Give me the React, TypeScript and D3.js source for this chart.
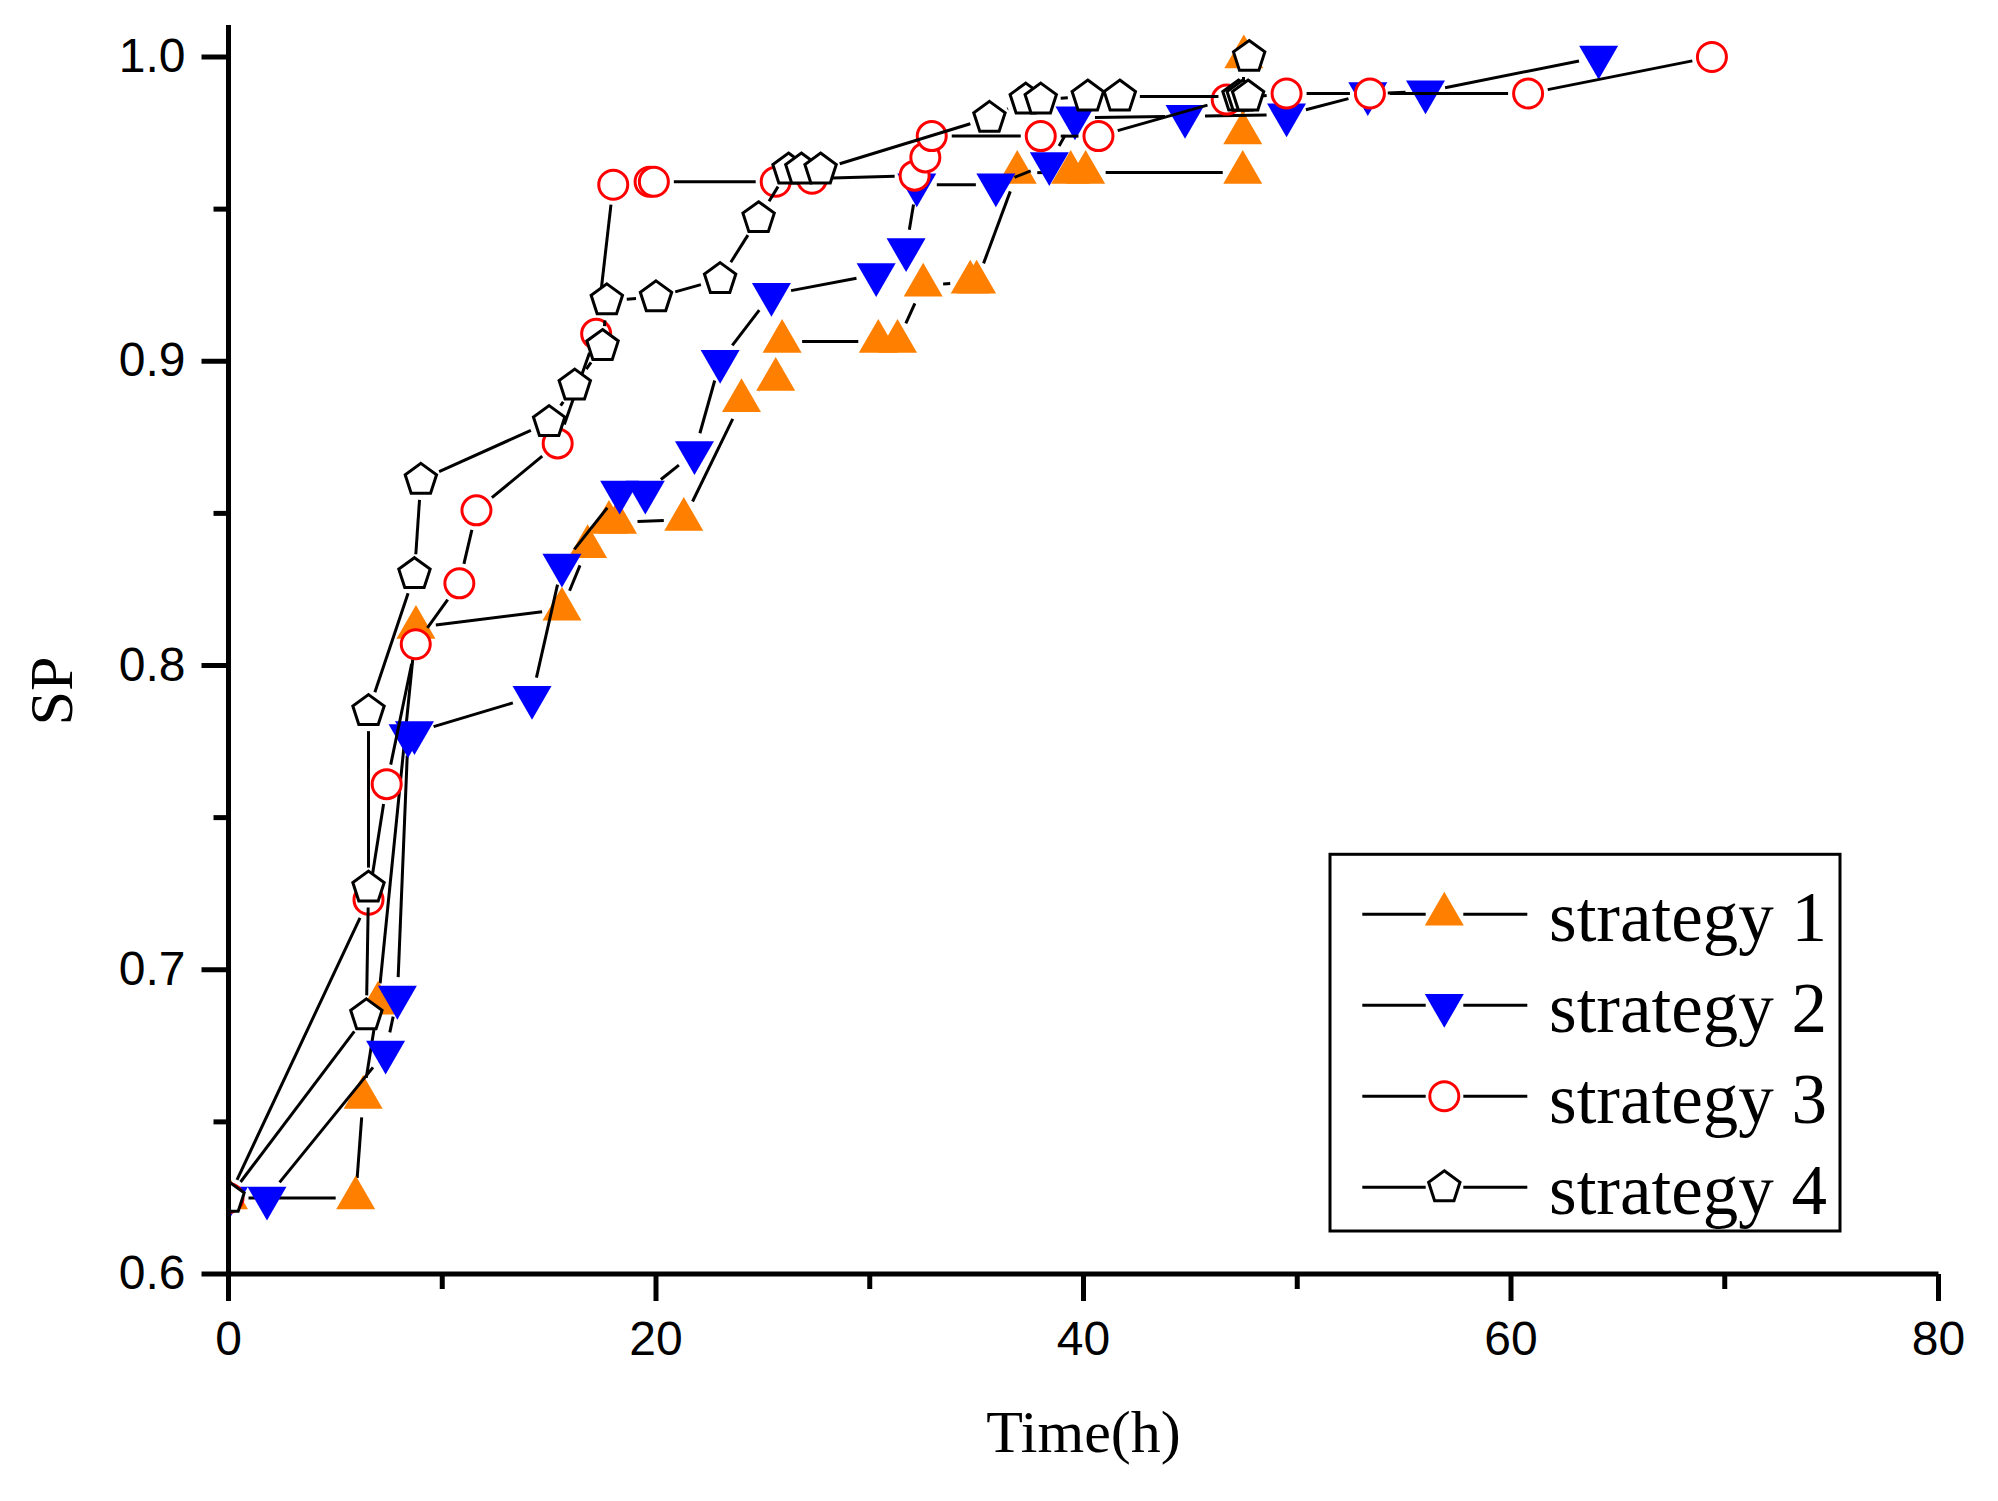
import React from 'react';
import * as d3 from 'd3';

const W = 1998;
const H = 1501;

// ---- data ----
const xTicks = [0, 20, 40, 60, 80];
const xMinorTicks = [10, 30, 50, 70];
const yTicks = [0.6, 0.7, 0.8, 0.9, 1.0];
const yMinorTicks = [0.65, 0.75, 0.85, 0.95];
const yTickLabels = ['0.6', '0.7', '0.8', '0.9', '1.0'];

const seriesNames = ['strategy 1', 'strategy 2', 'strategy 3', 'strategy 4'];
const seriesColors = ['#FF8000', '#0000FF', '#FF0000', '#000000'];
const seriesShapes = ['up', 'down', 'circle', 'pentagon'];

const s1Time = [0, 5.95, 6.3, 7.0, 8.77, 15.6, 16.8, 17.8, 18.2, 21.3, 24.0, 25.6, 25.9, 30.4, 31.3, 32.5, 34.7, 35.0, 36.9, 39.4, 40.1, 47.45, 47.45, 47.5];
const s1SP = [0.625, 0.625, 0.658, 0.689, 0.8125, 0.8185, 0.839, 0.847, 0.847, 0.848, 0.887, 0.894, 0.9065, 0.9065, 0.9065, 0.925, 0.926, 0.926, 0.962, 0.962, 0.962, 0.962, 0.975, 1.0];

const s2Time = [0, 1.8, 7.35, 7.9, 8.4, 8.7, 14.2, 15.6, 18.3, 19.5, 21.8, 23.0, 25.4, 30.3, 31.7, 32.2, 35.9, 38.4, 39.6, 44.75, 49.5, 53.3, 56.0, 64.1];
const s2SP = [0.625, 0.625, 0.673, 0.691, 0.777, 0.778, 0.7896, 0.833, 0.857, 0.857, 0.870, 0.900, 0.922, 0.9285, 0.9367, 0.958, 0.958, 0.965, 0.980, 0.9805, 0.981, 0.988, 0.9886, 1.0];

const s3Time = [0, 6.55, 7.4, 8.76, 10.8, 11.6, 15.4, 17.2, 18.0, 19.7, 19.9, 25.6, 27.3, 32.1, 32.6, 32.9, 38.0, 40.7, 46.7, 49.5, 53.4, 60.8, 69.4];
const s3SP = [0.625, 0.723, 0.761, 0.807, 0.827, 0.851, 0.873, 0.909, 0.958, 0.959, 0.959, 0.959, 0.960, 0.961, 0.967, 0.974, 0.974, 0.974, 0.986, 0.988, 0.988, 0.988, 1.0];

const s4Time = [0, 6.45, 6.55, 6.55, 8.7, 9.0, 15.0, 16.2, 17.5, 17.7, 20.0, 23.0, 24.8, 26.2, 26.8, 27.7, 35.6, 37.3, 38.0, 40.2, 41.7, 47.25, 47.45, 47.7, 47.75];
const s4SP = [0.625, 0.685, 0.727, 0.785, 0.830, 0.861, 0.880, 0.892, 0.905, 0.920, 0.921, 0.927, 0.947, 0.963, 0.963, 0.963, 0.980, 0.986, 0.986, 0.987, 0.987, 0.987, 0.987, 0.987, 1.0];

const seriesTime = [s1Time, s2Time, s3Time, s4Time];
const seriesSP = [s1SP, s2SP, s3SP, s4SP];

// ---- layout ----
const X0 = 228.5;
const X1 = 1938.5;
const Y0 = 1274;
const Y1 = 57;
const AXIS_TOP = 25;
const GAP = 20;

const xScale = d3.scaleLinear().domain([0, 80]).range([X0, X1]);
const yScale = d3.scaleLinear().domain([0.6, 1.0]).range([Y0, Y1]);

const SANS = '"Liberation Sans", Arial, sans-serif';
const SERIF = '"Liberation Serif", "Times New Roman", serif';

function Marker({ shape, color, cx, cy }: { shape: string; color: string; cx: number; cy: number }) {
  if (shape === 'up' || shape === 'down') {
    const s = 39;
    const h = (s * Math.sqrt(3)) / 2;
    const sign = shape === 'up' ? 1 : -1;
    const pts = [
      [cx, cy - (sign * 2 * h) / 3],
      [cx - s / 2, cy + (sign * h) / 3],
      [cx + s / 2, cy + (sign * h) / 3],
    ];
    return <polygon points={pts.map((p) => p.join(',')).join(' ')} fill={color} stroke="none" />;
  }
  if (shape === 'circle') {
    return <circle cx={cx} cy={cy} r={14.5} fill="#fff" stroke={color} strokeWidth={3} />;
  }
  const R = 16.5;
  const pts = d3.range(5).map((i) => {
    const a = -Math.PI / 2 + (i * 2 * Math.PI) / 5;
    return [cx + R * Math.cos(a), cy + R * Math.sin(a)];
  });
  return (
    <polygon
      points={pts.map((p) => p.join(',')).join(' ')}
      fill="#fff"
      stroke={color}
      strokeWidth={3}
      strokeLinejoin="miter"
    />
  );
}

function gapSegments(px: number[], py: number[]) {
  const segs: [number, number, number, number][] = [];
  for (let i = 0; i < px.length - 1; i++) {
    const ax = px[i], ay = py[i], bx = px[i + 1], by = py[i + 1];
    const dx = bx - ax, dy = by - ay;
    const len = Math.hypot(dx, dy);
    if (len <= 2 * GAP) continue;
    const ux = dx / len, uy = dy / len;
    segs.push([ax + ux * GAP, ay + uy * GAP, bx - ux * GAP, by - uy * GAP]);
  }
  return segs;
}

export default function App() {
  const legendX = 1330;
  const legendY = 854.3;
  const legendW = 510;
  const legendH = 376.7;
  const rowY0 = 914.3;
  const rowStep = 91;

  return (
    <svg
      width={W}
      height={H}
      viewBox={`0 0 ${W} ${H}`}
      style={{ position: 'absolute', left: 0, top: 0, background: '#fff' }}
    >
      <rect x={0} y={0} width={W} height={H} fill="#fff" />
      <defs>
        <clipPath id="plotClip">
          <rect x={X0} y={0} width={W - X0} height={Y0 + 40} />
        </clipPath>
      </defs>

      <g clipPath="url(#plotClip)">
        {seriesTime.map((ts, si) => {
          const px = ts.map((t) => xScale(t));
          const py = seriesSP[si].map((v) => yScale(v));
          const segs = gapSegments(px, py);
          return (
            <g key={si}>
              {segs.map((s, k) => (
                <line key={k} x1={s[0]} y1={s[1]} x2={s[2]} y2={s[3]} stroke="#000" strokeWidth={3} />
              ))}
              {px.map((x, k) => (
                <Marker key={k} shape={seriesShapes[si]} color={seriesColors[si]} cx={x} cy={py[k]} />
              ))}
            </g>
          );
        })}
      </g>

      {/* axes */}
      <g stroke="#000" strokeWidth={5} fill="none">
        <line x1={X0} y1={AXIS_TOP} x2={X0} y2={Y0} />
        <line x1={X0} y1={Y0} x2={X1} y2={Y0} />
        {yTicks.map((v) => (
          <line key={'yt' + v} x1={X0 - 27} y1={yScale(v)} x2={X0} y2={yScale(v)} />
        ))}
        {yMinorTicks.map((v) => (
          <line key={'ym' + v} x1={X0 - 15} y1={yScale(v)} x2={X0} y2={yScale(v)} />
        ))}
        {xTicks.map((t) => (
          <line key={'xt' + t} x1={xScale(t)} y1={Y0} x2={xScale(t)} y2={Y0 + 27} />
        ))}
        {xMinorTicks.map((t) => (
          <line key={'xm' + t} x1={xScale(t)} y1={Y0} x2={xScale(t)} y2={Y0 + 15} />
        ))}
      </g>

      {yTicks.map((v, i) => (
        <text key={'yl' + v} x={185.5} y={yScale(v) + 15} textAnchor="end" fontFamily={SANS} fontSize={48} fill="#000">
          {yTickLabels[i]}
        </text>
      ))}
      {xTicks.map((t) => (
        <text key={'xl' + t} x={xScale(t)} y={1355} textAnchor="middle" fontFamily={SANS} fontSize={48} fill="#000">
          {String(t)}
        </text>
      ))}

      <text x={(X0 + X1) / 2} y={1452} textAnchor="middle" fontFamily={SERIF} fontSize={60} fill="#000">
        Time(h)
      </text>
      <text
        x={0}
        y={0}
        transform={`translate(72, 691) rotate(-90)`}
        textAnchor="middle"
        fontFamily={SERIF}
        fontSize={62}
        fill="#000"
      >
        SP
      </text>

      {/* legend */}
      <rect x={legendX} y={legendY} width={legendW} height={legendH} fill="#fff" stroke="#000" strokeWidth={3} />
      {seriesNames.map((name, i) => {
        const ry = rowY0 + i * rowStep;
        return (
          <g key={name}>
            <line x1={1362.3} y1={ry} x2={1425.7} y2={ry} stroke="#000" strokeWidth={3} />
            <line x1={1463.3} y1={ry} x2={1527.3} y2={ry} stroke="#000" strokeWidth={3} />
            <Marker shape={seriesShapes[i]} color={seriesColors[i]} cx={1444.3} cy={ry} />
            <text x={1549} y={ry + 26.5} fontFamily={SERIF} fontSize={71} fill="#000">
              {name}
            </text>
          </g>
        );
      })}
    </svg>
  );
}
